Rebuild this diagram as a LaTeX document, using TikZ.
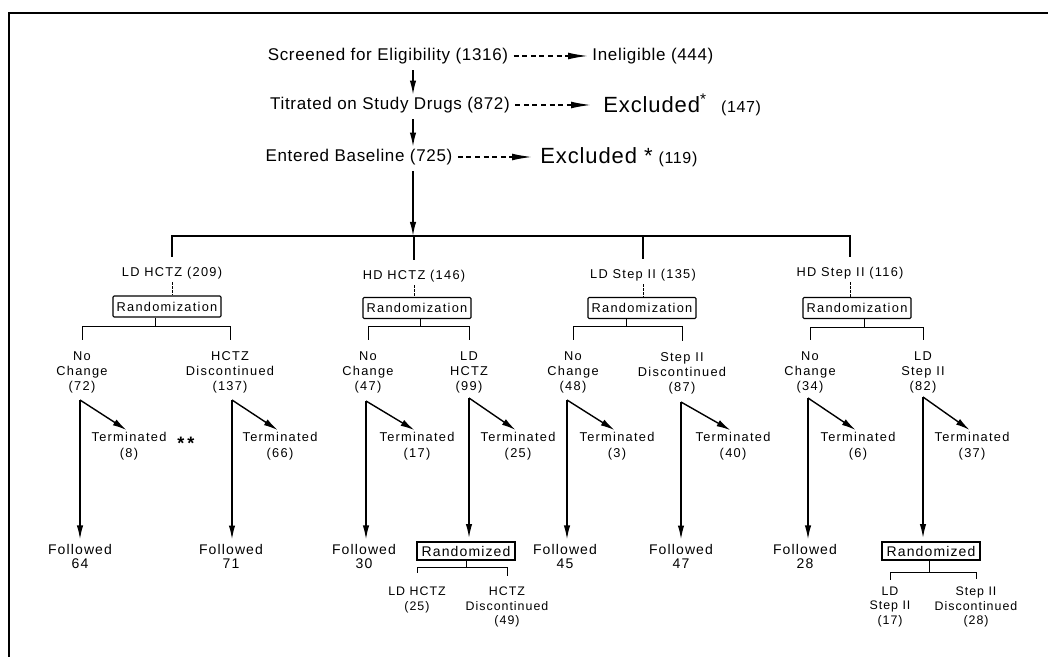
\documentclass[tikz,border=0pt]{standalone}
\usepackage{fontspec}
\setmainfont{Liberation Sans}
\newfontfamily\fA[LetterSpace=4]{Liberation Sans}
\newfontfamily\fB[LetterSpace=10]{Liberation Sans}
\newfontfamily\fC[LetterSpace=8]{Liberation Sans}
\usetikzlibrary{arrows.meta}
\begin{document}
\begin{tikzpicture}[x=0.5pt,y=-0.5pt,
  toptxt/.style={font=\fA\fontsize{8.5}{10}\selectfont, inner sep=0pt},
  exctxt/.style={font=\fA\fontsize{11}{12}\selectfont, inner sep=0pt},
  grp/.style={font=\fB\fontsize{6.4}{7.5}\selectfont, inner sep=0pt},
  kid/.style={font=\fB\fontsize{6.4}{7.5}\selectfont, inner sep=0pt, align=center},
  term/.style={font=\fB\fontsize{6.4}{8}\selectfont, inner sep=0pt, align=center},
  fol/.style={font=\fC\fontsize{7}{7}\selectfont, inner sep=0pt, align=center},
  subk/.style={font=\fC\fontsize{6.2}{7.25}\selectfont, inner sep=0pt, align=center},
  rbox/.style={draw, line width=0.55pt, font=\fB\fontsize{6.4}{7.5}\selectfont, minimum width=54pt, minimum height=10.5pt, inner sep=1pt, rounded corners=0.6pt},
  rzbox/.style={draw, line width=0.9pt, font=\fC\fontsize{7}{8}\selectfont, minimum width=49pt, minimum height=9pt, inner sep=1pt},
  varr/.style={line width=0.75pt, -{Latex[length=7pt,width=3.2pt]}},
  diag/.style={line width=0.7pt, -{Latex[length=7pt,width=3.4pt]}},
  darr/.style={line width=0.7pt, dash pattern=on 2.5pt off 1.8pt, -{Latex[length=10pt,width=3.4pt]}},
  tree/.style={line width=0.5pt},
  bustree/.style={line width=0.7pt},
  dots/.style={line width=0.35pt, dash pattern=on 1.2pt off 0.8pt}
]
\useasboundingbox (0,0) rectangle (1048,657);
% frame
\draw[line width=0.9pt] (9,657) -- (9,13) -- (1048,13);

% top rows
\node[toptxt] (s1) at (388,56) {Screened for Eligibility (1316)};
\node[toptxt, anchor=west] (i1) at (592,56) {Ineligible (444)};
\node[toptxt] (s2) at (390,105) {Titrated on Study Drugs (872)};
\node[exctxt, anchor=west] (x2) at (603,105) {Excluded\textsuperscript{*}\hspace{7pt}{\fA\fontsize{8}{10}\selectfont (147)}};
\node[toptxt] (s3) at (359,157) {Entered Baseline (725)};
\node[exctxt, anchor=west] (x3) at (540,157) {Excluded *\hspace{3pt}{\fA\fontsize{8}{10}\selectfont (119)}};

\coordinate (c0) at (413,0);
\coordinate (bus) at (413,236);
\draw[darr, shorten <=2.5pt, shorten >=2pt] (s1.east) -- (i1.west);
\draw[darr, shorten <=2.5pt, shorten >=6pt] (s2.east) -- (x2.west);
\draw[darr, shorten <=2.5pt, shorten >=4pt] (s3.east) -- (x3.west);
\draw[varr, shorten <=3pt, shorten >=1pt] (s1.south -| c0) -- (s2.north -| c0);
\draw[varr, shorten <=3pt, shorten >=1pt] (s2.south -| c0) -- (s3.north -| c0);
\draw[varr, shorten <=3pt] (s3.south -| c0) -- (bus);

% groups
\node[grp] (g1) at (172,273) {LD HCTZ (209)};
\node[grp] (g2) at (414,276) {HD HCTZ (146)};
\node[grp] (g3) at (643,275) {LD Step II (135)};
\node[grp] (g4) at (850,273) {HD Step II (116)};
\draw[bustree, shorten <=5pt, shorten >=5pt] (g1.north) -- (g1.north |- bus) -- (g4.north |- bus) -- (g4.north);
\draw[bustree, shorten >=5pt] (g2.north |- bus) -- (g2.north);
\draw[bustree, shorten >=5pt] (g3.north |- bus) -- (g3.north);

% randomization boxes
\node[rbox] (r1) at (167,306.5) {Randomization};
\node[rbox] (r2) at (417,308) {Randomization};
\node[rbox] (r3) at (642,308) {Randomization};
\node[rbox] (r4) at (857,308) {Randomization};
\draw[dots, shorten <=1.5pt] (g1.south) -- (g1.south |- r1.north);
\draw[dots, shorten <=1.5pt] (g2.south) -- (g2.south |- r2.north);
\draw[dots, shorten <=1.5pt] (g3.south) -- (g3.south |- r3.north);
\draw[dots, shorten <=1.5pt] (g4.south) -- (g4.south |- r4.north);

% children
\node[kid] (b1a) at (82,372) {No\\Change\\(72)};
\node[kid] (b1b) at (230,372) {HCTZ\\Discontinued\\(137)};
\node[kid] (b2a) at (368,372) {No\\Change\\(47)};
\node[kid] (b2b) at (469,372) {LD\\HCTZ\\(99)};
\node[kid] (b3a) at (573,372) {No\\Change\\(48)};
\node[kid] (b3b) at (682,373) {Step II\\Discontinued\\(87)};
\node[kid] (b4a) at (810,372) {No\\Change\\(34)};
\node[kid] (b4b) at (923,372) {LD\\Step II\\(82)};

\coordinate (h1) at (155,327);
\coordinate (h2) at (420,327);
\coordinate (h3) at (626,327);
\coordinate (h4) at (864,328);
\draw[tree] (r1.south -| h1) -- (h1);
\draw[tree] (r2.south -| h2) -- (h2);
\draw[tree] (r3.south -| h3) -- (h3);
\draw[tree] (r4.south -| h4) -- (h4);
\draw[tree, shorten <=5.5pt, shorten >=5.5pt] (b1a.north) -- (b1a.north |- h1) -- (b1b.north |- h1) -- (b1b.north);
\draw[tree, shorten <=5.5pt, shorten >=5.5pt] (b2a.north) -- (b2a.north |- h2) -- (b2b.north |- h2) -- (b2b.north);
\draw[tree, shorten <=5.5pt, shorten >=5.5pt] (b3a.north) -- (b3a.north |- h3) -- (b3b.north |- h3) -- (b3b.north);
\draw[tree, shorten <=5.5pt, shorten >=5.5pt] (b4a.north) -- (b4a.north |- h4) -- (b4b.north |- h4) -- (b4b.north);

% terminated
\node[term] (t1) at (129,446) {Terminated\\(8)};
\node[font=\bfseries\fontsize{9}{9}\selectfont, inner sep=0pt, anchor=base west] (st) at (177,449) {*\kern1.5pt*};
\node[term] (t2) at (280,446) {Terminated\\(66)};
\node[term] (t3) at (417,446) {Terminated\\(17)};
\node[term] (t4) at (518,446) {Terminated\\(25)};
\node[term] (t5) at (617,446) {Terminated\\(3)};
\node[term] (t6) at (733,446) {Terminated\\(40)};
\node[term] (t7) at (858,446) {Terminated\\(6)};
\node[term] (t8) at (972,446) {Terminated\\(37)};

% followed
\node[fol] (f1) at (80,556) {Followed\\64};
\node[fol] (f2) at (231,556) {Followed\\71};
\node[fol] (f3) at (364,556) {Followed\\30};
\node[rzbox] (rz1) at (466,551) {Randomized};
\node[fol] (f5) at (565,556) {Followed\\45};
\node[fol] (f6) at (681,556) {Followed\\47};
\node[fol] (f7) at (805,556) {Followed\\28};
\node[rzbox] (rz2) at (931,551) {Randomized};

% corners and arrows
\coordinate (k1) at (80,400);
\coordinate (k2) at (232,400);
\coordinate (k3) at (366,401);
\coordinate (k4) at (469,398);
\coordinate (k5) at (567,400);
\coordinate (k6) at (681,402);
\coordinate (k7) at (808,398);
\coordinate (k8) at (923,397);
\foreach \k/\t in {k1/t1,k2/t2,k3/t3,k4/t4,k5/t5,k6/t6,k7/t7,k8/t8}{
  \draw[diag, shorten >=1.5pt] (\k) -- (\t.north);
}
\foreach \k/\f in {k1/f1,k2/f2,k3/f3,k5/f5,k6/f6,k7/f7}{
  \draw[varr, shorten >=2pt] (\k) -- (\f.north -| \k);
}
\draw[varr, shorten >=1.5pt] (k4) -- (rz1.north -| k4);
\draw[varr, shorten >=1.5pt] (k8) -- (rz2.north -| k8);

% final sub-randomization
\node[subk] (s1a) at (417,600) {LD HCTZ\\(25)};
\node[subk] (s1b) at (507,607) {HCTZ\\Discontinued\\(49)};
\node[subk] (s2a) at (890,607) {LD\\Step II\\(17)};
\node[subk] (s2b) at (976,607) {Step II\\Discontinued\\(28)};
\coordinate (h5) at (466,567);
\coordinate (h6) at (929,572);
\draw[tree] (rz1.south -| h5) -- (h5);
\draw[tree] (rz2.south -| h6) -- (h6);
\draw[tree, shorten <=7pt, shorten >=5pt] (s1a.north) -- (s1a.north |- h5) -- (s1b.north |- h5) -- (s1b.north);
\draw[tree, shorten <=3.5pt, shorten >=3.5pt] (s2a.north) -- (s2a.north |- h6) -- (s2b.north |- h6) -- (s2b.north);
\end{tikzpicture}
\end{document}
